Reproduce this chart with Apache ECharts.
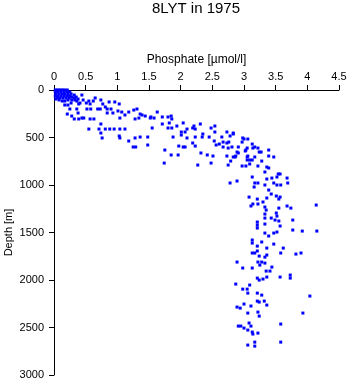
<!DOCTYPE html>
<html>
<head>
<meta charset="utf-8">
<script src="https://cdn.jsdelivr.net/npm/echarts@6/dist/echarts.min.js"></script>
<style>html,body{margin:0;padding:0;background:#fff}#c{width:350px;height:384px}</style>
</head>
<body>
<div id="c"></div>
<script>
const titleText = "8LYT in 1975";
const xName = "Phosphate [\u00b5mol/l]";
const yName = "Depth [m]";
const xTicks = [0, 0.5, 1, 1.5, 2, 2.5, 3, 3.5, 4, 4.5];
const yTicks = [0, 500, 1000, 1500, 2000, 2500, 3000];

// Phosphate [µmol/l]
const phosphate = [
 0.02,0.05,0.08,0.11,0.14,0.17,0.21,0.02,0.06,0.11,0.16,0.21,0.25,0.03,0.08,0.13,0.17,0.22,0.27,
 0.02,0.06,0.11,0.16,0.21,0.25,0.05,0.09,0.14,0.19,0.24,0.28,0.32,0.35,0.38,0.33,0.28,0.22,0.17,0.13,0.08,0.03,
 0.32,0.36,0.41,0.44,0.46,0.51,0.39,0.27,0.22,0.17,0.55,0.62,0.65,0.74,0.87,0.96,1.03,0.57,0.77,0.81,
 0.69,0.25,0.36,0.52,0.58,0.73,0.84,0.90,1.01,1.07,1.18,1.26,1.31,0.21,0.28,0.39,0.47,0.63,0.84,0.93,
 1.12,1.34,1.36,1.39,1.44,1.52,1.28,1.04,0.32,0.44,0.57,0.38,
 0.55,0.71,0.81,0.88,0.95,1.04,1.12,0.74,0.74,0.76,1.03,1.04,1.18,1.28,1.36,1.48,1.48,1.29,1.25,1.55,
 1.63,1.58,1.53,1.71,1.80,1.85,1.86,1.71,1.82,1.80,1.86,1.94,2.04,2.21,2.19,2.23,2.31,2.48,2.54,2.54,
 2.01,2.07,2.10,2.01,2.10,1.88,2.23,2.34,2.35,2.45,2.53,2.65,2.73,2.83,2.78,2.67,2.73,2.76,2.61,2.56,
 2.67,2.75,2.81,2.91,3.00,2.97,3.06,3.13,1.97,2.04,2.07,1.75,1.85,1.96,2.32,2.42,2.51,2.19,2.23,
 1.74,2.27,2.48,2.75,2.73,2.79,2.83,2.87,2.97,3.03,2.91,3.02,3.05,3.06,3.09,3.09,3.17,3.24,3.22,3.28,
 3.33,3.39,3.39,3.47,3.39,3.36,3.13,3.36,3.44,3.54,3.57,3.52,3.68,
 2.83,2.98,3.27,2.86,3.05,3.17,3.13,3.05,2.89,3.14,3.22,3.03,
 2.78,2.89,3.17,3.22,3.16,3.33,3.47,3.52,3.58,3.69,3.39,3.43,3.08,3.21,3.36,3.51,3.57,3.55,
 3.14,3.22,3.11,3.33,3.35,3.55,3.68,3.74,4.14,3.33,3.51,3.52,3.43,3.33,3.49,3.55,3.77,
 3.21,3.21,3.33,3.21,3.57,3.77,3.92,4.15,3.33,3.47,3.52,3.39,3.13,3.13,3.28,3.47,3.21,3.36,3.62,
 3.21,3.17,3.13,3.24,3.36,3.58,3.82,3.90,2.89,3.22,3.28,3.33,3.25,2.98,3.13,3.35,3.41,3.44,
 3.21,3.24,3.30,3.36,3.57,3.73,3.73,2.87,3.09,2.98,3.05,3.06,3.21,3.28,4.04,3.21,3.32,3.24,3.00,3.11,3.36,
 2.89,2.94,3.06,3.22,3.24,3.93,3.58,3.08,2.95,2.91,3.11,3.00,3.06,3.13,3.22,3.14,3.17,3.58,3.06,3.17,
 3.30,3.33
];

// Depth [m]
const depth = [
 0,0,0,0,0,0,0,21,21,21,21,21,21,42,42,42,42,42,42,
 63,63,63,63,63,63,84,84,84,84,84,74,53,74,95,105,105,105,116,116,105,95,
 84,116,137,53,105,137,147,137,158,158,116,116,84,105,126,126,147,147,147,179,
 200,200,200,200,200,200,200,200,221,232,232,211,200,253,274,305,295,305,242,242,
 263,295,253,263,274,295,305,295,305,295,305,242,
 411,411,411,411,411,411,411,358,453,505,484,505,537,505,495,495,579,600,600,400,
 232,295,284,284,284,274,305,358,347,400,400,379,347,379,400,411,358,400,379,442,
 442,442,411,474,505,495,495,495,463,495,537,495,442,463,484,548,558,548,569,579,
 600,611,600,600,516,548,516,569,590,600,600,632,684,684,663,684,695,558,590,
 769,790,769,790,695,748,705,695,800,800,663,642,611,695,737,779,600,653,800,748,
 863,821,632,705,695,811,916,937,927,884,884,916,927,
 453,505,653,705,705,705,737,737,653,611,611,632,
 979,958,979,979,1021,1000,979,1000,1000,979,1053,1095,1127,1148,1137,1116,1127,1148,
 1200,1200,1221,1232,1264,1243,1221,1243,1211,1306,1295,1327,1348,1348,1369,1379,1369,
 1390,1422,1411,1453,1432,1474,1485,1485,1506,1506,1495,1537,1579,1611,1600,1622,1643,1664,1664,
 1695,1716,1716,1748,1737,1716,1727,1716,1811,1811,1811,1822,1843,1874,1874,1906,1906,1864,
 1980,2001,1990,1969,1969,1948,1980,2043,2053,2096,2096,2138,2138,2159,2169,2222,2222,2232,2253,2274,2264,
 2285,2296,2348,2338,2380,2348,2464,2453,2485,2485,2485,2506,2527,2548,2559,2569,2654,2654,2685,2696,
 1179,1759
];

const pts = phosphate.map((p, i) => [p, depth[i]]);
const FONT = "'Liberation Sans', Arial, sans-serif";

const chart = echarts.init(document.getElementById('c'), null, {renderer: 'canvas'});
chart.setOption({
  animation: false,
  backgroundColor: '#ffffff',
  title: {
    text: titleText,
    left: 196, top: 1, padding: 0,
    textAlign: 'center',
    textStyle: {fontFamily: FONT, fontSize: 15, fontWeight: 'normal', color: '#000'}
  },
  grid: {left: 54, right: 11, top: 90, bottom: 9, containLabel: false, outerBoundsMode: 'none'},
  xAxis: {
    type: 'value', position: 'top',
    min: xTicks[0], max: xTicks[xTicks.length - 1], interval: 0.5,
    name: xName, nameLocation: 'middle', nameGap: 22,
    nameTextStyle: {fontFamily: FONT, fontSize: 12, color: '#000'},
    axisLine: {show: true, onZero: false, lineStyle: {color: '#000', width: 1}},
    axisTick: {show: true, length: 5, inside: false, lineStyle: {color: '#000'}},
    axisLabel: {show: true, margin: 8, fontFamily: FONT, fontSize: 11, color: '#000',
      formatter: v => String(v)},
    splitLine: {show: false}
  },
  yAxis: {
    type: 'value', inverse: true,
    min: yTicks[0], max: yTicks[yTicks.length - 1], interval: 500,
    name: yName, nameLocation: 'middle', nameGap: 40, nameMoveOverlap: false,
    nameTextStyle: {fontFamily: FONT, fontSize: 11, color: '#000'},
    axisLine: {show: true, onZero: false, lineStyle: {color: '#000', width: 1}},
    axisTick: {show: true, length: 5, inside: false, lineStyle: {color: '#000'}},
    axisLabel: {show: true, margin: 10, fontFamily: FONT, fontSize: 11, color: '#000',
      formatter: v => String(v)},
    splitLine: {show: false}
  },
  series: [{
    type: 'scatter',
    data: pts,
    symbol: 'rect',
    symbolSize: 3,
    itemStyle: {color: '#0000ff', opacity: 1},
    emphasis: {disabled: true},
    silent: true
  }]
});
</script>
</body>
</html>
